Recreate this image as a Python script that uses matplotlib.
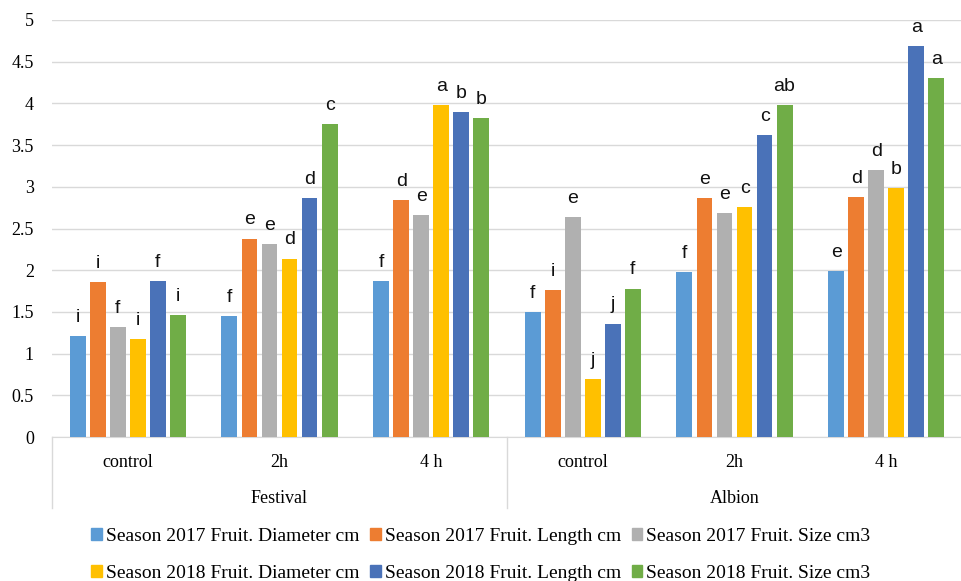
import matplotlib.pyplot as plt
from matplotlib.patches import Patch

treatments = ["control", "2h", "4 h", "control", "2h", "4 h"]
cultivars = ["Festival", "Albion"]

series_names = [
    "Season 2017 Fruit. Diameter cm",
    "Season 2017 Fruit. Length cm",
    "Season 2017 Fruit. Size cm3",
    "Season 2018 Fruit. Diameter cm",
    "Season 2018 Fruit. Length cm",
    "Season 2018 Fruit. Size cm3",
]
colors = ["#5B9BD5", "#ED7D31", "#B0B0B0", "#FFC000", "#4A72B8", "#70AD47"]

diam_2017 = [1.21, 1.45, 1.87, 1.50, 1.98, 1.99]
length_2017 = [1.86, 2.38, 2.84, 1.76, 2.86, 2.88]
size_2017 = [1.32, 2.31, 2.66, 2.64, 2.68, 3.20]
diam_2018 = [1.17, 2.14, 3.98, 0.69, 2.76, 2.98]
length_2018 = [1.87, 2.86, 3.90, 1.36, 3.62, 4.69]
size_2018 = [1.46, 3.75, 3.82, 1.78, 3.98, 4.30]

letters_diam_2017 = ["i", "f", "f", "f", "f", "e"]
letters_length_2017 = ["i", "e", "d", "i", "e", "d"]
letters_size_2017 = ["f", "e", "e", "e", "e", "d"]
letters_diam_2018 = ["i", "d", "a", "j", "c", "b"]
letters_length_2018 = ["f", "d", "b", "j", "c", "a"]
letters_size_2018 = ["i", "c", "b", "f", "ab", "a"]

values = [diam_2017, length_2017, size_2017, diam_2018, length_2018, size_2018]
letters = [letters_diam_2017, letters_length_2017, letters_size_2017,
           letters_diam_2018, letters_length_2018, letters_size_2018]

serif = "Liberation Serif"
sans = "Liberation Sans"

fig = plt.figure(figsize=(9.62, 5.81), dpi=100)
ax = fig.add_axes([52 / 962, 144 / 581, 910 / 962, 417 / 581])

pitch = 0.132
width = 0.105
for i, (vals, labs) in enumerate(zip(values, letters)):
    xs = [c + (i - 2.5) * pitch for c in range(len(treatments))]
    ax.bar(xs, vals, width=width, color=colors[i], zorder=3)
    for x, v, t in zip(xs, vals, labs):
        ax.text(x, v + 0.17, t, ha="center", va="baseline",
                fontsize=14, family=sans, color="#111111")

ax.set_xlim(-0.5, 5.5)
ax.set_ylim(0, 5)
ax.set_yticks([0, 0.5, 1, 1.5, 2, 2.5, 3, 3.5, 4, 4.5, 5])
ax.set_yticklabels(["0", "0.5", "1", "1.5", "2", "2.5", "3", "3.5", "4", "4.5", "5"],
                   family=serif, fontsize=13)
ax.tick_params(axis="y", length=0, pad=13)
ax.set_xticks([])
ax.grid(axis="y", color="#D9D9D9", lw=1, zorder=0)
for s in ["left", "right", "top"]:
    ax.spines[s].set_visible(False)
ax.spines["bottom"].set_color("#D9D9D9")

# two-level category axis
trans = ax.get_xaxis_transform()
for x in [-0.5, 2.5, 5.5]:
    ax.plot([x, x], [0, -0.17], transform=trans, color="#D9D9D9",
            lw=1, clip_on=False)
for c, t in enumerate(treatments):
    ax.text(c, -0.062, t, transform=trans, ha="center", va="center",
            family=serif, fontsize=13)
for g, name in enumerate(cultivars):
    ax.text(1 + 3 * g, -0.148, name, transform=trans, ha="center", va="center",
            family=serif, fontsize=13)

handles = [Patch(color=c, label=n) for c, n in zip(colors, series_names)]
order = [0, 3, 1, 4, 2, 5]
fig.legend([handles[k] for k in order], [series_names[k] for k in order],
           loc="center", bbox_to_anchor=(0.5, 26 / 581), ncol=3, frameon=False,
           prop={"family": serif, "size": 14}, handlelength=0.55,
           handleheight=0.55, handletextpad=0.2, columnspacing=0.55,
           labelspacing=1.05)

fig.savefig("out.png", dpi=100)
